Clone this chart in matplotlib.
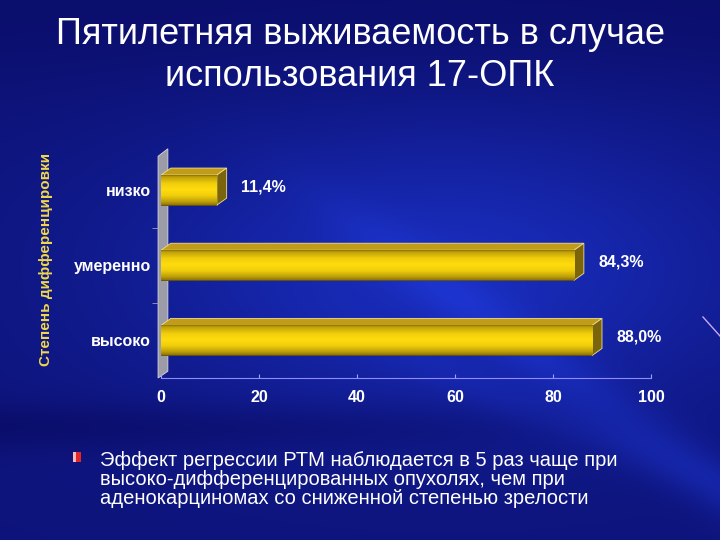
import numpy as np
import matplotlib.pyplot as plt
from matplotlib.patches import Polygon, Rectangle
from matplotlib.lines import Line2D

plt.rcParams['font.family'] = ['Liberation Sans', 'DejaVu Sans']

# Data
categories = ["низко", "умеренно", "высоко"]
survival = [11.4, 84.3, 88.0]
xticks = [0, 20, 40, 60, 80, 100]
title_lines = ["Пятилетняя выживаемость в случае", "использования 17-ОПК"]
ylabel = "Степень дифференцировки"
note_lines = ["Эффект регрессии РТМ наблюдается в 5 раз чаще при",
              "высоко-дифференцированных опухолях, чем при",
              "аденокарциномах со сниженной степенью зрелости"]

fig = plt.figure(figsize=(7.2, 5.4), dpi=100)


def smooth_step(z, edge, width):
    return 1 / (1 + np.exp(-(z - edge) / width))


# Background: dark blue slide with soft light streaks
bg = fig.add_axes([0, 0, 1, 1])
bg.axis("off")
X, Y = np.meshgrid(np.linspace(0, 1, 720), np.linspace(0, 1, 540))
t = 0.25 + 0.5 * np.exp(-((X - 0.62) ** 2 / 0.2 + (Y - 0.5) ** 2 / 0.08))
t += 0.2 * np.exp(-((Y - 0.95 * X + 0.05) ** 2) / 0.004) * smooth_step(X, 0.5, 0.06)
t += 0.12 * np.exp(-((Y - 0.55 * X - 0.35) ** 2) / 0.002) * smooth_step(X, 0.55, 0.06)
t -= 0.15 * np.exp(-((Y - 0.79) ** 2) / 0.002) * (1 - smooth_step(X, 0.7, 0.08))
t -= 0.12 * np.exp(-(Y ** 2) / 0.03)
t = np.clip(t, 0, 1)
dark = np.array([0.03, 0.03, 0.36])
light = np.array([0.12, 0.22, 0.85])
img = dark + t[..., None] * (light - dark)
bg.imshow(img, extent=(0, 1, 0, 1), aspect="auto", zorder=0)
bg.set_xlim(0, 1)
bg.set_ylim(0, 1)
bg.add_line(Line2D([703 / 720, 1.0], [1 - 317 / 540, 1 - 336 / 540],
                   color="#c8a8f0", lw=1.0))

# Chart
ax = fig.add_axes([161 / 720, 1 - 378 / 540, 490 / 720, 225.5 / 540])
ax.set_facecolor("none")
ypos = np.arange(len(categories))
h = 0.4
dx, dy = 2.0, 0.093

# side wall
wall = Polygon([(-0.6, 2.5), (-0.6, -0.45), (1.4, -0.55), (1.4, 2.41)],
               closed=True, facecolor="#9c9ca8", edgecolor="#d8d8e0", lw=0.6,
               clip_on=False, zorder=1)
ax.add_patch(wall)

# front gradient for the bars (top -> bottom)
rows = np.linspace(0, 1, 60)
grad = np.interp(rows, [0, 0.08, 0.3, 0.5, 0.7, 0.9, 1.0],
                 [0.0, 0.55, 0.9, 1.0, 0.9, 0.55, 0.25])
c_dark = np.array([0.42, 0.33, 0.02])
c_bright = np.array([1.0, 0.86, 0.05])
bar_img = (c_dark + grad[:, None] * (c_bright - c_dark))[:, None, :]

bars = ax.barh(ypos, survival, height=h, color="#e8c000",
               edgecolor="#5a4a08", lw=0.6, zorder=3)
for bar, v, y in zip(bars, survival, ypos):
    im = ax.imshow(bar_img, extent=(0, v, y + h / 2, y - h / 2),
                   aspect="auto", interpolation="bilinear", zorder=3.5)
    im.set_clip_path(bar)
    top = Polygon([(0, y - h / 2), (v, y - h / 2), (v + dx, y - h / 2 - dy),
                   (dx, y - h / 2 - dy)], closed=True, facecolor="#c09c18",
                  edgecolor="#f0e090", lw=0.6, zorder=3)
    side = Polygon([(v, y - h / 2), (v + dx, y - h / 2 - dy),
                    (v + dx, y + h / 2 - dy), (v, y + h / 2)], closed=True,
                   facecolor="#7a640c", edgecolor="#f0e090", lw=0.6, zorder=3)
    ax.add_patch(top)
    ax.add_patch(side)
    ax.text(v + 5, y - 0.04, f"{v:.1f}%".replace(".", ","), color="white",
            fontsize=11.5, fontweight="bold", va="center", ha="left", zorder=5)

ax.set_xlim(0, 100)
ax.set_ylim(2.5, -0.5)
ax.set_xticks(xticks)
ax.set_yticks(ypos)
ax.set_yticklabels(categories)
ax.set_yticks([0.5, 1.5], minor=True)

for s in ["top", "right"]:
    ax.spines[s].set_visible(False)
ax.spines["bottom"].set_color("#8c8cff")
ax.spines["bottom"].set_linewidth(0.8)
ax.spines["left"].set_position(("data", -0.6))
ax.spines["left"].set_visible(False)

ax.tick_params(axis="x", direction="in", length=3, color="#a0a0ff",
               labelcolor="white", labelsize=11.5, pad=9)
ax.tick_params(axis="y", which="major", length=0, labelcolor="white",
               labelsize=11.5, pad=5)
ax.tick_params(axis="y", which="minor", length=4, color="#a0a0b0")
for lab in ax.get_xticklabels() + ax.get_yticklabels():
    lab.set_fontweight("bold")

# Texts
fig.text(0.5, 1 - 35 / 540, title_lines[0], color="white", fontsize=26,
         ha="center", va="center")
fig.text(0.5, 1 - 76 / 540, title_lines[1], color="white", fontsize=26,
         ha="center", va="center")
fig.text(46 / 720, 1 - 260 / 540, ylabel, color="#f2d848", fontsize=11,
         fontweight="bold", rotation=90, ha="center", va="center")

for i, line in enumerate(note_lines):
    fig.text(100 / 720, 1 - (461 + 18.5 * i) / 540, line, color="white",
             fontsize=14.5, ha="left", va="center")

bg.add_patch(Rectangle((73 / 720, 1 - 462 / 540), 8 / 720, 10 / 540,
                       facecolor="#e02828", edgecolor="none"))
bg.add_patch(Rectangle((73 / 720, 1 - 462 / 540), 3 / 720, 10 / 540,
                       facecolor="#ffb8b8", edgecolor="none"))

fig.savefig("out.png", dpi=100)
